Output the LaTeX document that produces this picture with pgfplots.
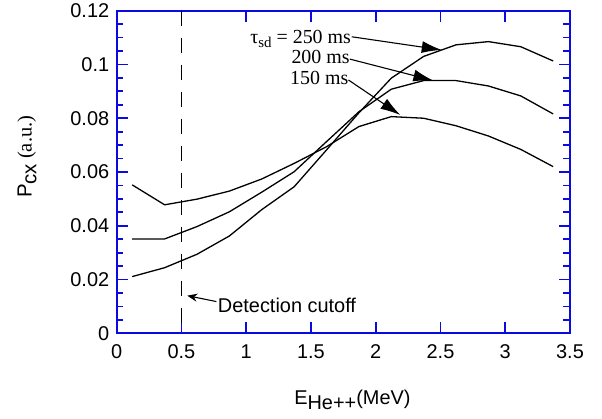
\documentclass[border=0pt]{standalone}
\usepackage{pgfplots}
\pgfplotsset{compat=1.18}
\usepackage{fontspec}
\setmainfont{Liberation Serif}
\newfontfamily\arial{Liberation Sans}
\usetikzlibrary{arrows.meta}
\definecolor{axblue}{RGB}{10,10,225}
\begin{document}
\begin{tikzpicture}
\begin{axis}[
  scale only axis,
  width=453.3bp, height=322.6bp,
  xmin=0, xmax=3.5, ymin=0, ymax=0.12,
  xtick={0,0.5,1,1.5,2,2.5,3,3.5},
  xticklabels={0,0.5,1,1.5,2,2.5,3,3.5},
  ytick={0,0.02,0.04,0.06,0.08,0.1,0.12},
  yticklabels={0,0.02,0.04,0.06,0.08,0.1,0.12},
  scaled y ticks=false,
  minor y tick num=3,
  tick align=inside,
  major tick length=11bp,
  minor tick length=6.5bp,
  axis line style={axblue, line width=1.9bp},
  every tick/.style={axblue, line width=1.7bp},
  tick label style={font=\arial\fontsize{20}{23}\selectfont, black},
  xticklabel style={yshift=-8bp},
  yticklabel style={xshift=-4bp},
  xlabel={\arial\fontsize{20}{23}\selectfont E\raisebox{-0.45ex}{He++}(MeV)},
  xlabel style={at={(axis description cs:0.52,-0.222)}, anchor=base},
  ylabel={{\arial P\raisebox{-0.45ex}{cx}} (a.u.)},
  ylabel style={at={(axis description cs:-0.198,0.547)}, anchor=center, font=\fontsize{20.5}{24}\selectfont},
  clip=false,
]
% 150 ms
\addplot[black, line width=1.3bp] coordinates {
(0.12,0.0552) (0.37,0.0478) (0.62,0.0499) (0.87,0.0529) (1.12,0.0574) (1.37,0.0632) (1.62,0.0694)
(1.87,0.0769) (2.12,0.0806) (2.37,0.0800) (2.62,0.0772) (2.87,0.0734) (3.12,0.0684) (3.37,0.0620)};
% 200 ms
\addplot[black, line width=1.3bp] coordinates {
(0.12,0.0351) (0.37,0.0351) (0.62,0.0397) (0.87,0.0452) (1.12,0.0525) (1.37,0.0601) (1.62,0.0713)
(1.87,0.0824) (2.12,0.0908) (2.37,0.0940) (2.62,0.0940) (2.87,0.0920) (3.12,0.0883) (3.37,0.0816)};
% 250 ms
\addplot[black, line width=1.3bp] coordinates {
(0.12,0.0211) (0.37,0.0244) (0.62,0.0294) (0.87,0.0362) (1.12,0.0460) (1.37,0.0545) (1.62,0.0682)
(1.87,0.0820) (2.12,0.0949) (2.37,0.1030) (2.62,0.1073) (2.87,0.1085) (3.12,0.1066) (3.37,0.1013)};
% detection cutoff
\addplot[black, line width=1.5bp, dash pattern=on 15bp off 12bp] coordinates {(0.5,0.12) (0.5,0)};
\draw[black, line width=1.1bp, -{Stealth[length=10bp,width=8bp]}] (axis cs:0.77,0.0118) -- (axis cs:0.545,0.0140);
\node[anchor=west, font=\arial\fontsize{20}{23}\selectfont, inner sep=0pt] at (axis cs:0.78,0.0105) {Detection cutoff};
% tau labels
\node[anchor=base east, inner sep=0pt, font=\fontsize{20}{24}\selectfont] at (axis cs:1.81,0.1079) {τ\raisebox{-0.5ex}{\fontsize{15}{18}\selectfont sd} = 250 ms};
\node[anchor=base east, inner sep=0pt, font=\fontsize{20}{24}\selectfont] at (axis cs:1.80,0.1002) {200 ms};
\node[anchor=base east, inner sep=0pt, font=\fontsize{20}{24}\selectfont] at (axis cs:1.79,0.0924) {150 ms};
\draw[black, line width=1.1bp, -{Latex[length=20bp,width=12bp]}] (axis cs:1.815,0.1103) -- (axis cs:2.51,0.1054);
\draw[black, line width=1.1bp, -{Latex[length=20bp,width=12bp]}] (axis cs:1.80,0.1020) -- (axis cs:2.445,0.0940);
\draw[black, line width=1.1bp, -{Latex[length=20bp,width=12bp]}] (axis cs:1.79,0.0942) -- (axis cs:2.19,0.0812);
\end{axis}
\pgfresetboundingbox
\path (current axis.south west) ++(-116.7bp,-85.7bp) rectangle ++(602bp,419bp);
\end{tikzpicture}
\end{document}
